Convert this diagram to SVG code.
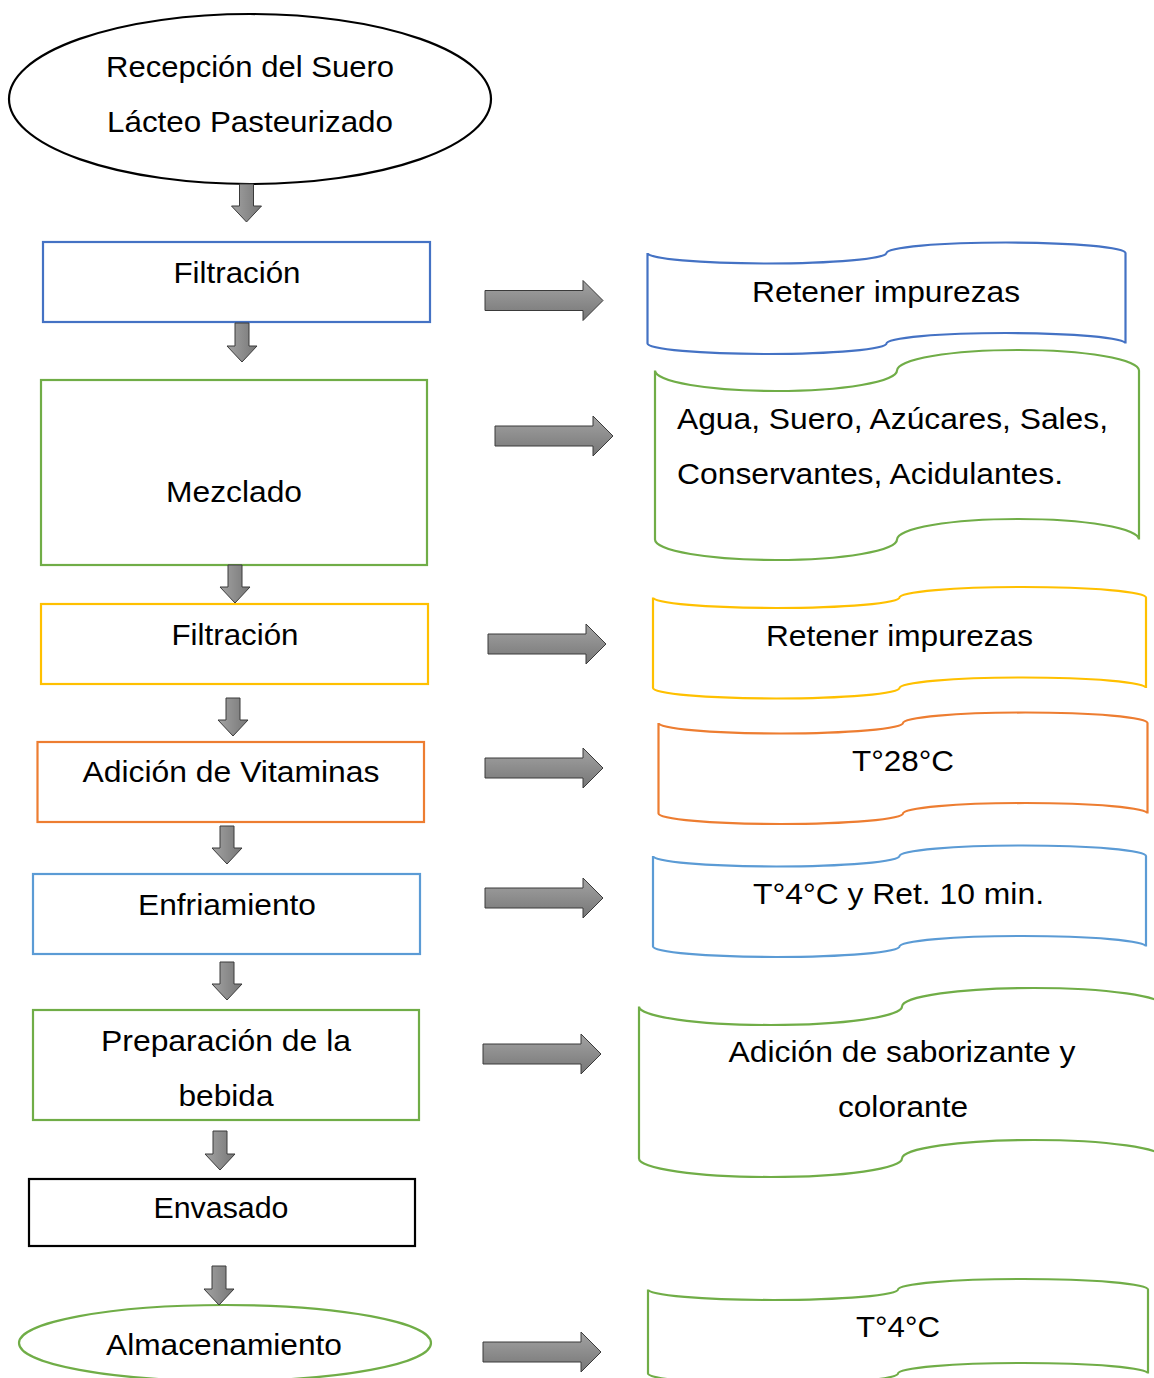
<svg xmlns="http://www.w3.org/2000/svg" width="1154" height="1378" viewBox="0 0 1154 1378">
<style>
.t{font-family:"Liberation Sans",Arial,sans-serif;font-size:30px;fill:#000;text-anchor:middle}
.tl{font-family:"Liberation Sans",Arial,sans-serif;font-size:30px;fill:#000;text-anchor:start}
.n{fill:#fff;stroke-width:2.2}
.blue{stroke:#4472C4}.green{stroke:#70AD47}.gold{stroke:#FFC000}.orange{stroke:#ED7D31}.lblue{stroke:#5B9BD5}.black{stroke:#000}
.ar{stroke:#3a3a3a;stroke-width:1}
.rt{fill:url(#gv)}.dn{fill:url(#gh)}
</style>
<defs>
<linearGradient id="gv" x1="0" y1="0" x2="0" y2="1"><stop offset="0" stop-color="#a3a3a3"/><stop offset="1" stop-color="#767676"/></linearGradient>
<linearGradient id="gh" x1="0" y1="0" x2="1" y2="0"><stop offset="0" stop-color="#a3a3a3"/><stop offset="1" stop-color="#767676"/></linearGradient>
</defs>
<rect width="1154" height="1378" fill="#fff"/>

<g id="recepcion">
<ellipse class="n black" cx="250" cy="99" rx="241" ry="85"/>
<text class="t" x="250" y="77" textLength="288" lengthAdjust="spacingAndGlyphs">Recepción del Suero</text>
<text class="t" x="250" y="132" textLength="286" lengthAdjust="spacingAndGlyphs">Lácteo Pasteurizado</text>
</g>
<g id="filtracion1">
<rect class="n blue" x="43" y="242" width="387" height="80"/>
<text class="t" x="237" y="283" textLength="127" lengthAdjust="spacingAndGlyphs">Filtración</text>
</g>
<g id="mezclado">
<rect class="n green" x="41" y="380" width="386" height="185"/>
<text class="t" x="234" y="502" textLength="136" lengthAdjust="spacingAndGlyphs">Mezclado</text>
</g>
<g id="filtracion2">
<rect class="n gold" x="41" y="604" width="387" height="80"/>
<text class="t" x="235" y="645" textLength="127" lengthAdjust="spacingAndGlyphs">Filtración</text>
</g>
<g id="vitaminas">
<rect class="n orange" x="37.5" y="742" width="386.5" height="80"/>
<text class="t" x="231" y="782" textLength="297" lengthAdjust="spacingAndGlyphs">Adición de Vitaminas</text>
</g>
<g id="enfriamiento">
<rect class="n lblue" x="33" y="874" width="387" height="80"/>
<text class="t" x="227" y="915" textLength="178" lengthAdjust="spacingAndGlyphs">Enfriamiento</text>
</g>
<g id="preparacion">
<rect class="n green" x="33" y="1010" width="386" height="110"/>
<text class="t" x="226" y="1051" textLength="250" lengthAdjust="spacingAndGlyphs">Preparación de la</text>
<text class="t" x="226" y="1106" textLength="95" lengthAdjust="spacingAndGlyphs">bebida</text>
</g>
<g id="envasado">
<rect class="n black" x="29" y="1179" width="386" height="67"/>
<text class="t" x="221" y="1218" textLength="135" lengthAdjust="spacingAndGlyphs">Envasado</text>
</g>
<g id="almacenamiento">
<ellipse class="n green" cx="225" cy="1343" rx="206" ry="38"/>
<text class="t" x="224" y="1355" textLength="236" lengthAdjust="spacingAndGlyphs">Almacenamiento</text>
</g>

<g id="nota-retener1">
<path class="n blue" d="M647.5,253 A119.5,10.5 0 0 0 886.5,253 A119.5,10.5 0 0 1 1125.5,253 L1125.5,343.5 A119.5,10.5 0 0 0 886.5,343.5 A119.5,10.5 0 0 1 647.5,343.5 Z"/>
<text class="t" x="886" y="302" textLength="268" lengthAdjust="spacingAndGlyphs">Retener impurezas</text>
</g>
<g id="nota-ingredientes">
<path class="n green" d="M655,370.5 A121,20.5 0 0 0 897,370.5 A121,20.5 0 0 1 1139,370.5 L1139,539.5 A121,20.5 0 0 0 897,539.5 A121,20.5 0 0 1 655,539.5 Z"/>
<text class="tl" x="677" y="429" textLength="431" lengthAdjust="spacingAndGlyphs">Agua, Suero, Azúcares, Sales,</text>
<text class="tl" x="677" y="484" textLength="386" lengthAdjust="spacingAndGlyphs">Conservantes, Acidulantes.</text>
</g>
<g id="nota-retener2">
<path class="n gold" d="M653,597.5 A123.25,10.5 0 0 0 899.5,597.5 A123.25,10.5 0 0 1 1146,597.5 L1146,688 A123.25,10.5 0 0 0 899.5,688 A123.25,10.5 0 0 1 653,688 Z"/>
<text class="t" x="899.5" y="646" textLength="267" lengthAdjust="spacingAndGlyphs">Retener impurezas</text>
</g>
<g id="nota-t28">
<path class="n orange" d="M658.5,723 A122.25,10.5 0 0 0 903,723 A122.25,10.5 0 0 1 1147.5,723 L1147.5,813.5 A122.25,10.5 0 0 0 903,813.5 A122.25,10.5 0 0 1 658.5,813.5 Z"/>
<text class="t" x="903" y="771" textLength="102" lengthAdjust="spacingAndGlyphs">T°28°C</text>
</g>
<g id="nota-t4ret">
<path class="n lblue" d="M653,856 A123.25,10.5 0 0 0 899.5,856 A123.25,10.5 0 0 1 1146,856 L1146,946.5 A123.25,10.5 0 0 0 899.5,946.5 A123.25,10.5 0 0 1 653,946.5 Z"/>
<text class="t" x="898.5" y="903.5" textLength="291" lengthAdjust="spacingAndGlyphs">T°4°C y Ret. 10 min.</text>
</g>
<g id="nota-saborizante">
<path class="n green" d="M639,1006.5 A131.5,18.5 0 0 0 902,1006.5 A131.5,18.5 0 0 1 1165,1006.5 L1165,1158.5 A131.5,18.5 0 0 0 902,1158.5 A131.5,18.5 0 0 1 639,1158.5 Z"/>
<text class="t" x="902" y="1062" textLength="347" lengthAdjust="spacingAndGlyphs">Adición de saborizante y</text>
<text class="t" x="903" y="1117" textLength="130" lengthAdjust="spacingAndGlyphs">colorante</text>
</g>
<g id="nota-t4">
<path class="n green" d="M648,1289.5 A125,10.5 0 0 0 898,1289.5 A125,10.5 0 0 1 1148,1289.5 L1148,1373.5 A125,10.5 0 0 0 898,1373.5 A125,10.5 0 0 1 648,1373.5 Z"/>
<text class="t" x="898" y="1337" textLength="84" lengthAdjust="spacingAndGlyphs">T°4°C</text>
</g>

<g id="connectors">
<path class="ar dn" d="M239.5,184 H253.5 V206 H261.5 L246.5,222 L231.5,206 H239.5 Z"/>
<path class="ar dn" d="M235,323 H249 V346 H257 L242,362 L227,346 H235 Z"/>
<path class="ar dn" d="M228,565 H242 V587 H250 L235,603 L220,587 H228 Z"/>
<path class="ar dn" d="M226,698 H240 V720 H248 L233,736 L218,720 H226 Z"/>
<path class="ar dn" d="M220,826 H234 V848 H242 L227,864 L212,848 H220 Z"/>
<path class="ar dn" d="M220,962 H234 V984 H242 L227,1000 L212,984 H220 Z"/>
<path class="ar dn" d="M213,1131 H227 V1154 H235 L220,1170 L205,1154 H213 Z"/>
<path class="ar dn" d="M212,1266 H226 V1289 H234 L219,1305 L204,1289 H212 Z"/>

<path class="ar rt" d="M485,290.5 H583 V280.5 L603,300.5 L583,320.5 V310.5 H485 Z"/>
<path class="ar rt" d="M495,426 H593 V416 L613,436 L593,456 V446 H495 Z"/>
<path class="ar rt" d="M488,634 H586 V624 L606,644 L586,664 V654 H488 Z"/>
<path class="ar rt" d="M485,758 H583 V748 L603,768 L583,788 V778 H485 Z"/>
<path class="ar rt" d="M485,888 H583 V878 L603,898 L583,918 V908 H485 Z"/>
<path class="ar rt" d="M483,1044 H581 V1034 L601,1054 L581,1074 V1064 H483 Z"/>
<path class="ar rt" d="M483,1342 H581 V1332 L601,1352 L581,1372 V1362 H483 Z"/>
</g>
</svg>
